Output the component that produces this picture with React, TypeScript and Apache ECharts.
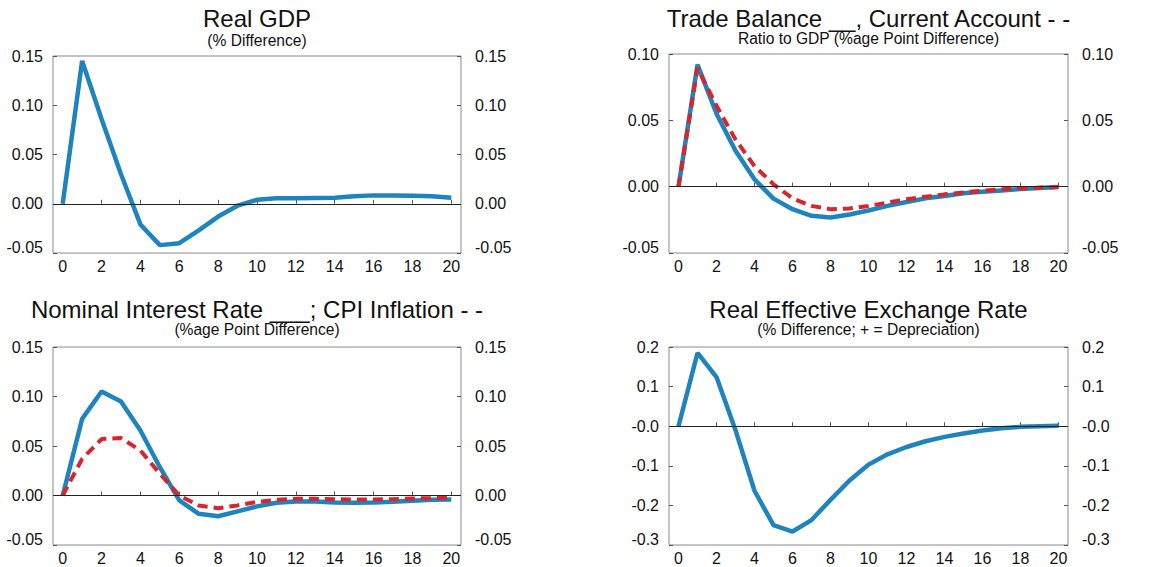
import React, { useEffect, useRef } from "react";
import * as echarts from "echarts";

const periods = Array.from({ length: 21 }, (_, i) => String(i));

const realGdp = [0, 0.145, 0.086, 0.03, -0.021, -0.042, -0.040, -0.027, -0.013, -0.002, 0.004, 0.0055, 0.0055, 0.0058, 0.006, 0.0075, 0.0085, 0.0085, 0.008, 0.0075, 0.006];

const tradeBalance = [0, 0.092, 0.055, 0.027, 0.0055, -0.009, -0.017, -0.022, -0.0233, -0.021, -0.018, -0.0145, -0.0115, -0.0088, -0.007, -0.005, -0.0038, -0.0028, -0.0018, -0.001, -0.0003];
const currentAccount = [0, 0.0895, 0.061, 0.0356, 0.0155, 0.0018, -0.0088, -0.0145, -0.017, -0.0165, -0.0145, -0.012, -0.0095, -0.0075, -0.0058, -0.0043, -0.003, -0.002, -0.0013, -0.0008, -0.0003];

const nominalRate = [0, 0.0774, 0.105, 0.095, 0.0657, 0.0286, -0.005, -0.0185, -0.021, -0.016, -0.011, -0.0074, -0.006, -0.006, -0.007, -0.0074, -0.007, -0.0064, -0.0054, -0.0044, -0.004];
const cpiInflation = [0, 0.037, 0.057, 0.058, 0.0455, 0.022, 0, -0.01, -0.0128, -0.01, -0.0064, -0.0044, -0.0034, -0.0034, -0.0037, -0.004, -0.004, -0.0037, -0.003, -0.0027, -0.0024];

const reer = [0, 0.185, 0.124, -0.01, -0.163, -0.25, -0.266, -0.237, -0.186, -0.137, -0.097, -0.071, -0.0525, -0.038, -0.027, -0.0186, -0.011, -0.005, -0.0017, 0, 0.001];

const titles = [
  "Real GDP",
  "Trade Balance __, Current Account - -",
  "Nominal Interest Rate ___; CPI Inflation - -",
  "Real Effective Exchange Rate",
];
const subtitles = [
  "(% Difference)",
  "Ratio to GDP (%age Point Difference)",
  "(%age Point Difference)",
  "(% Difference; + = Depreciation)",
];

const BLUE = "#1f84be";
const RED = "#d7262b";

export default function App() {
  const ref = useRef<HTMLDivElement>(null);
  useEffect(() => {
    if (!ref.current) return;
    const chart = echarts.init(ref.current, undefined, { renderer: "svg" });
    const grids = [
      { left: 53, top: 56, width: 408, height: 197 },
      { left: 669, top: 54, width: 399, height: 199 },
      { left: 53, top: 347, width: 408, height: 198 },
      { left: 669, top: 347, width: 399, height: 198 },
    ];
    const ranges = [
      { min: -0.05, max: 0.15, interval: 0.05, dp: 2 },
      { min: -0.05, max: 0.1, interval: 0.05, dp: 2 },
      { min: -0.05, max: 0.15, interval: 0.05, dp: 2 },
      { min: -0.3, max: 0.2, interval: 0.1, dp: 1 },
    ];
    const font = "'Liberation Sans', Arial, sans-serif";
    const xAxis: any[] = [];
    const yAxis: any[] = [];
    grids.forEach((g, i) => {
      xAxis.push({
        type: "category",
        gridIndex: i,
        data: periods,
        boundaryGap: true,
        axisLine: { show: false },
        axisTick: {
          show: true,
          alignWithLabel: true,
          interval: 1,
          inside: true,
          length: 4,
          lineStyle: { color: "#555" },
        },
        axisLabel: {
          interval: 1,
          margin: 5,
          color: "#111",
          fontSize: 16,
          fontFamily: font,
        },
        splitLine: { show: false },
      });
      const r = ranges[i];
      const fmt = (v: number) => {
        let s = Math.abs(v) < 1e-9 ? (r.dp === 1 ? "-0.0" : "0.00") : v.toFixed(r.dp);
        if (Math.abs(v - r.min) < 1e-9) return "{low|" + s + "}";
        return s;
      };
      ["left", "right"].forEach((pos) => {
        yAxis.push({
          type: "value",
          gridIndex: i,
          position: pos,
          min: r.min,
          max: r.max,
          interval: r.interval,
          axisLine: { show: false },
          axisTick: { show: true, inside: true, length: 4, lineStyle: { color: "#555" } },
          axisLabel: {
            margin: pos === "left" ? 10 : 14,
            color: "#111",
            fontSize: 16,
            fontFamily: font,
            formatter: fmt,
            rich: {
              low: {
                fontSize: 16,
                fontFamily: font,
                color: "#111",
                padding: [0, 0, 12, 0],
              },
            },
          },
          splitLine: { show: false },
        });
      });
    });

    const zeroLine = {
      silent: true,
      symbol: "none",
      label: { show: false },
      lineStyle: { color: "#222", width: 1, type: "solid" },
      data: [{ yAxis: 0 }],
    };
    const solid = (data: number[], idx: number, withZero: boolean) => ({
      type: "line",
      xAxisIndex: idx,
      yAxisIndex: idx * 2,
      data,
      symbol: "none",
      z: 3,
      lineStyle: { color: BLUE, width: 4.5 },
      ...(withZero ? { markLine: zeroLine } : {}),
    });
    const dashed = (data: number[], idx: number) => ({
      type: "line",
      xAxisIndex: idx,
      yAxisIndex: idx * 2,
      data,
      symbol: "none",
      z: 4,
      lineStyle: { color: RED, width: 4, type: [10, 6] },
    });

    const graphic: any[] = [];
    grids.forEach((g, i) => {
      const cx = g.left + g.width / 2;
      const titleTop = i < 2 ? 6 : 297;
      const subTop = i === 0 ? 32 : i === 1 ? 30 : 321;
      graphic.push({
        type: "text",
        x: cx,
        y: titleTop,
        style: {
          text: titles[i],
          fontSize: 24,
          fontFamily: font,
          fill: "#111",
          textAlign: "center",
          textVerticalAlign: "top",
        },
      });
      graphic.push({
        type: "text",
        x: cx,
        y: subTop,
        style: {
          text: subtitles[i],
          fontSize: 15.6,
          fontFamily: font,
          fill: "#111",
          textAlign: "center",
          textVerticalAlign: "top",
        },
      });
    });

    chart.setOption({
      animation: false,
      backgroundColor: "#ffffff",
      grid: grids.map((g) => ({
        ...g,
        show: true,
        borderColor: "#8a8a8a",
        borderWidth: 1,
        backgroundColor: "transparent",
      })),
      xAxis,
      yAxis,
      graphic,
      series: [
        solid(realGdp, 0, true),
        solid(tradeBalance, 1, true),
        dashed(currentAccount, 1),
        solid(nominalRate, 2, true),
        dashed(cpiInflation, 2),
        solid(reer, 3, true),
      ],
    });
    return () => chart.dispose();
  }, []);
  return (
    <div
      ref={ref}
      style={{ position: "fixed", left: 0, top: 0, width: 1172, height: 567, background: "#fff" }}
    />
  );
}
